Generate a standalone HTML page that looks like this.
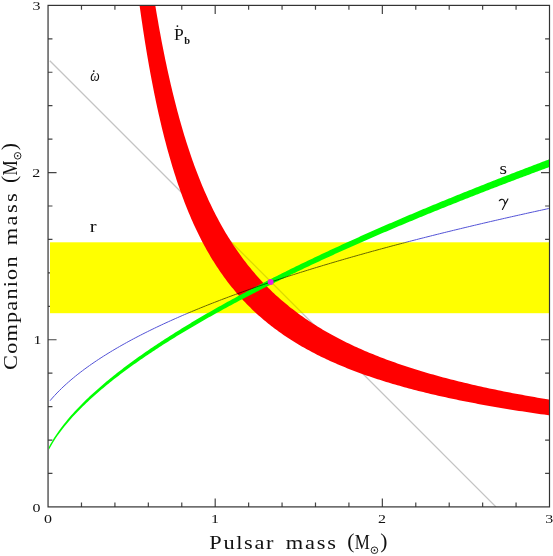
<!DOCTYPE html>
<html><head><meta charset="utf-8">
<style>
html,body{margin:0;padding:0;background:#fff;}
body{width:553px;height:556px;overflow:hidden;}
svg{display:block;will-change:transform;}
.ser{font-family:"Liberation Serif",serif;fill:#111;}
.san{font-family:"Liberation Sans",sans-serif;fill:#111;}
</style></head>
<body>
<svg width="553" height="556" viewBox="0 0 553 556">
<defs><clipPath id="pc"><rect x="48.05" y="5.39" width="501.45" height="501.51"/></clipPath><clipPath id="cy"><rect x="50" y="242.3" width="500" height="70.9"/></clipPath><clipPath id="cn"><rect x="40" y="0" width="520" height="242.3"/><rect x="40" y="313.2" width="520" height="250"/></clipPath></defs>
<rect x="0" y="0" width="553" height="556" fill="#fff"/>
<path d="M81.48,506.9 v-4.4 M81.48,5.39 v4.4 M48.05,473.47 h4.4 M549.5,473.47 h-4.4 M114.91,506.9 v-4.4 M114.91,5.39 v4.4 M48.05,440.03 h4.4 M549.5,440.03 h-4.4 M148.34,506.9 v-4.4 M148.34,5.39 v4.4 M48.05,406.6 h4.4 M549.5,406.6 h-4.4 M181.77,506.9 v-4.4 M181.77,5.39 v4.4 M48.05,373.16 h4.4 M549.5,373.16 h-4.4 M215.2,506.9 v-8.5 M215.2,5.39 v8.5 M48.05,339.73 h8.5 M549.5,339.73 h-8.5 M248.63,506.9 v-4.4 M248.63,5.39 v4.4 M48.05,306.3 h4.4 M549.5,306.3 h-4.4 M282.06,506.9 v-4.4 M282.06,5.39 v4.4 M48.05,272.86 h4.4 M549.5,272.86 h-4.4 M315.49,506.9 v-4.4 M315.49,5.39 v4.4 M48.05,239.43 h4.4 M549.5,239.43 h-4.4 M348.92,506.9 v-4.4 M348.92,5.39 v4.4 M48.05,205.99 h4.4 M549.5,205.99 h-4.4 M382.35,506.9 v-8.5 M382.35,5.39 v8.5 M48.05,172.56 h8.5 M549.5,172.56 h-8.5 M415.78,506.9 v-4.4 M415.78,5.39 v4.4 M48.05,139.13 h4.4 M549.5,139.13 h-4.4 M449.21,506.9 v-4.4 M449.21,5.39 v4.4 M48.05,105.69 h4.4 M549.5,105.69 h-4.4 M482.64,506.9 v-4.4 M482.64,5.39 v4.4 M48.05,72.26 h4.4 M549.5,72.26 h-4.4 M516.07,506.9 v-4.4 M516.07,5.39 v4.4 M48.05,38.82 h4.4 M549.5,38.82 h-4.4" stroke="#444" stroke-width="1.2" fill="none"/>
<g clip-path="url(#pc)">
<rect x="50" y="242.3" width="500" height="70.9" fill="#ffff00"/>
<line x1="49.8" y1="60.7" x2="496" y2="506.9" stroke="#c4c4c4" stroke-width="1.3" clip-path="url(#cn)"/>
<line x1="49.8" y1="60.7" x2="496" y2="506.9" stroke="#dcdcdc" stroke-width="1.3" clip-path="url(#cy)" style="mix-blend-mode:multiply"/>
<path d="M98.19,-654.5 L98.52,-643.62 L98.85,-632.86 L99.18,-622.2 L99.51,-611.64 L99.85,-601.19 L100.19,-590.85 L100.53,-580.6 L100.87,-570.46 L101.21,-560.42 L101.56,-550.48 L101.91,-540.63 L102.26,-530.89 L102.61,-521.24 L102.97,-511.68 L103.32,-502.22 L103.68,-492.86 L104.05,-483.59 L104.41,-474.41 L104.78,-465.32 L105.15,-456.32 L105.52,-447.41 L105.89,-438.59 L106.27,-429.85 L106.65,-421.21 L107.03,-412.65 L107.42,-404.17 L107.8,-395.78 L108.19,-387.47 L108.58,-379.25 L108.98,-371.11 L109.37,-363.04 L109.77,-355.06 L110.18,-347.16 L110.58,-339.34 L110.99,-331.59 L111.4,-323.93 L111.81,-316.34 L112.22,-308.82 L112.64,-301.38 L113.06,-294.01 L113.49,-286.72 L113.91,-279.5 L114.34,-272.36 L114.77,-265.28 L115.21,-258.28 L115.65,-251.34 L116.09,-244.48 L116.53,-237.68 L116.98,-230.95 L117.42,-224.29 L117.88,-217.7 L118.33,-211.17 L118.79,-204.71 L119.25,-198.31 L119.71,-191.98 L120.18,-185.71 L120.65,-179.5 L121.12,-173.35 L121.6,-167.27 L122.08,-161.25 L122.56,-155.29 L123.04,-149.39 L123.53,-143.55 L124.02,-137.76 L124.52,-132.04 L125.02,-126.37 L125.52,-120.76 L126.02,-115.21 L126.53,-109.71 L127.04,-104.27 L127.56,-98.88 L128.07,-93.55 L128.6,-88.27 L129.12,-83.04 L129.65,-77.87 L130.18,-72.75 L130.71,-67.68 L131.25,-62.66 L131.8,-57.7 L132.34,-52.78 L132.89,-47.91 L133.44,-43.09 L134,-38.32 L134.56,-33.6 L135.12,-28.93 L135.69,-24.3 L136.26,-19.72 L136.83,-15.19 L137.41,-10.7 L137.99,-6.26 L138.58,-1.87 L139.17,2.49 L139.76,6.79 L140.36,11.06 L140.96,15.28 L141.57,19.46 L142.18,23.59 L142.79,27.69 L143.41,31.74 L144.03,35.75 L144.65,39.72 L145.28,43.66 L145.91,47.55 L146.55,51.4 L147.19,55.21 L147.84,58.98 L148.49,62.72 L149.14,66.42 L149.8,70.08 L150.46,73.7 L151.13,77.29 L151.8,80.84 L152.48,84.35 L153.16,87.83 L153.84,91.27 L154.53,94.68 L155.23,98.06 L155.92,101.4 L156.63,104.7 L157.33,107.98 L158.05,111.22 L158.76,114.42 L159.48,117.6 L160.21,120.74 L160.94,123.85 L161.67,126.93 L162.41,129.98 L163.16,132.99 L163.91,135.98 L164.66,138.94 L165.42,141.86 L166.19,144.76 L166.96,147.63 L167.73,150.47 L168.51,153.28 L169.3,156.06 L170.09,158.82 L170.88,161.54 L171.68,164.24 L172.49,166.92 L173.3,169.56 L174.11,172.18 L174.93,174.77 L175.76,177.34 L176.59,179.88 L177.43,182.4 L178.27,184.89 L179.12,187.35 L179.97,189.79 L180.83,192.21 L181.7,194.6 L182.57,196.97 L183.44,199.32 L184.32,201.64 L185.21,203.94 L186.11,206.21 L187,208.46 L187.91,210.7 L188.82,212.9 L189.74,215.09 L190.66,217.26 L191.59,219.4 L192.52,221.52 L193.46,223.63 L194.41,225.71 L195.37,227.77 L196.32,229.81 L197.29,231.83 L198.26,233.83 L199.24,235.81 L200.23,237.78 L201.22,239.72 L202.21,241.64 L203.22,243.55 L204.23,245.43 L205.25,247.3 L206.27,249.15 L207.3,250.99 L208.34,252.8 L209.38,254.6 L210.43,256.38 L211.49,258.14 L212.55,259.89 L213.63,261.62 L214.7,263.33 L215.79,265.02 L216.88,266.7 L217.98,268.37 L219.09,270.02 L220.2,271.65 L221.32,273.27 L222.45,274.87 L223.59,276.46 L224.73,278.03 L225.88,279.58 L227.04,281.13 L228.21,282.65 L229.38,284.17 L230.56,285.67 L231.75,287.15 L232.95,288.62 L234.15,290.08 L235.36,291.53 L236.58,292.96 L237.81,294.38 L239.05,295.78 L240.29,297.17 L241.54,298.55 L242.8,299.92 L244.07,301.27 L245.35,302.61 L246.63,303.94 L247.93,305.26 L249.23,306.56 L250.54,307.86 L251.86,309.14 L253.18,310.41 L254.52,311.67 L255.86,312.92 L257.22,314.15 L258.58,315.38 L259.95,316.59 L261.33,317.8 L262.72,318.99 L264.12,320.17 L265.53,321.35 L266.94,322.51 L268.37,323.66 L269.8,324.8 L271.25,325.93 L272.7,327.05 L274.16,328.17 L275.64,329.27 L277.12,330.36 L278.61,331.44 L280.11,332.52 L281.62,333.58 L283.15,334.64 L284.68,335.69 L286.22,336.72 L287.77,337.75 L289.33,338.77 L290.9,339.79 L292.48,340.79 L294.08,341.78 L295.68,342.77 L297.29,343.75 L298.91,344.72 L300.55,345.68 L302.19,346.64 L303.85,347.58 L305.51,348.52 L307.19,349.45 L308.88,350.37 L310.58,351.29 L312.29,352.2 L314.01,353.1 L315.74,353.99 L317.48,354.88 L319.24,355.76 L321,356.63 L322.78,357.5 L324.57,358.35 L326.37,359.2 L328.19,360.05 L330.01,360.89 L331.85,361.72 L333.69,362.54 L335.55,363.36 L337.43,364.17 L339.31,364.98 L341.21,365.78 L343.12,366.57 L345.04,367.36 L346.97,368.14 L348.92,368.91 L350.88,369.68 L352.85,370.45 L354.84,371.2 L356.84,371.96 L358.85,372.7 L360.87,373.44 L362.91,374.18 L364.96,374.91 L367.02,375.63 L369.1,376.35 L371.19,377.06 L373.3,377.77 L375.42,378.47 L377.55,379.17 L379.69,379.86 L381.85,380.55 L384.03,381.23 L386.22,381.91 L388.42,382.58 L390.64,383.25 L392.87,383.91 L395.11,384.57 L397.37,385.22 L399.65,385.87 L401.94,386.51 L404.24,387.15 L406.56,387.79 L408.9,388.42 L411.25,389.04 L413.61,389.66 L415.99,390.28 L418.39,390.89 L420.8,391.5 L423.23,392.1 L425.67,392.7 L428.13,393.3 L430.61,393.89 L433.1,394.48 L435.61,395.06 L438.13,395.64 L440.67,396.22 L443.23,396.79 L445.8,397.36 L448.39,397.92 L451,398.48 L453.63,399.04 L456.27,399.59 L458.93,400.14 L461.6,400.69 L464.3,401.23 L467.01,401.77 L469.74,402.3 L472.48,402.83 L475.25,403.36 L478.03,403.88 L480.83,404.41 L483.65,404.92 L486.49,405.44 L489.34,405.95 L492.22,406.46 L495.11,406.96 L498.02,407.46 L500.95,407.96 L503.9,408.45 L506.87,408.94 L509.86,409.43 L512.87,409.92 L515.89,410.4 L518.94,410.88 L522.01,411.36 L525.09,411.83 L528.2,412.3 L531.33,412.77 L534.48,413.23 L537.64,413.69 L540.83,414.15 L544.04,414.61 L547.27,415.06 L550.52,415.51 L553.8,415.96 L557.09,416.4 L560.41,416.85 L563.74,417.29 L567.1,417.72 L570.48,418.16 L573.88,418.59 L577.31,419.02 L580.76,419.44 L584.23,419.87 L587.72,420.29 L591.23,420.71 L594.77,421.12 L598.33,421.54 L601.91,421.95 L605.52,422.36 L609.15,422.77 L612.81,423.17 L616.49,423.57 L620.19,423.97 L623.91,424.37 L627.67,424.76 L631.44,425.16 L635.24,425.55 L639.06,425.94 L642.91,426.32 L646.79,426.7 L650.69,427.09 L654.61,427.47 L658.56,427.84 L662.54,428.22 L666.54,428.59 L670.57,428.96 L674.62,429.33 L678.7,429.7 L682.81,430.06 L686.95,430.42 L691.11,430.78 L695.3,431.14 L699.51,431.5 L703.75,431.85 L708.03,432.21 L712.32,432.56 L716.65,432.91 L716.65,420.48 L712.32,420.06 L708.03,419.65 L703.75,419.23 L699.51,418.81 L695.3,418.39 L691.11,417.97 L686.95,417.54 L682.81,417.11 L678.7,416.68 L674.62,416.24 L670.57,415.81 L666.54,415.37 L662.54,414.93 L658.56,414.48 L654.61,414.03 L650.69,413.58 L646.79,413.13 L642.91,412.68 L639.06,412.22 L635.24,411.76 L631.44,411.29 L627.67,410.83 L623.91,410.36 L620.19,409.89 L616.49,409.41 L612.81,408.94 L609.15,408.46 L605.52,407.97 L601.91,407.49 L598.33,407 L594.77,406.5 L591.23,406.01 L587.72,405.51 L584.23,405.01 L580.76,404.51 L577.31,404 L573.88,403.49 L570.48,402.97 L567.1,402.46 L563.74,401.94 L560.41,401.41 L557.09,400.88 L553.8,400.35 L550.52,399.82 L547.27,399.28 L544.04,398.74 L540.83,398.2 L537.64,397.65 L534.48,397.1 L531.33,396.54 L528.2,395.99 L525.09,395.42 L522.01,394.86 L518.94,394.29 L515.89,393.72 L512.87,393.14 L509.86,392.56 L506.87,391.98 L503.9,391.39 L500.95,390.79 L498.02,390.2 L495.11,389.6 L492.22,388.99 L489.34,388.39 L486.49,387.77 L483.65,387.16 L480.83,386.54 L478.03,385.91 L475.25,385.28 L472.48,384.65 L469.74,384.01 L467.01,383.37 L464.3,382.72 L461.6,382.07 L458.93,381.42 L456.27,380.76 L453.63,380.09 L451,379.42 L448.39,378.75 L445.8,378.07 L443.23,377.38 L440.67,376.7 L438.13,376 L435.61,375.3 L433.1,374.6 L430.61,373.89 L428.13,373.18 L425.67,372.46 L423.23,371.74 L420.8,371.01 L418.39,370.27 L415.99,369.53 L413.61,368.79 L411.25,368.04 L408.9,367.28 L406.56,366.52 L404.24,365.75 L401.94,364.98 L399.65,364.2 L397.37,363.41 L395.11,362.62 L392.87,361.82 L390.64,361.02 L388.42,360.21 L386.22,359.4 L384.03,358.58 L381.85,357.75 L379.69,356.92 L377.55,356.08 L375.42,355.23 L373.3,354.37 L371.19,353.51 L369.1,352.65 L367.02,351.77 L364.96,350.89 L362.91,350.01 L360.87,349.11 L358.85,348.21 L356.84,347.3 L354.84,346.39 L352.85,345.47 L350.88,344.54 L348.92,343.6 L346.97,342.65 L345.04,341.7 L343.12,340.74 L341.21,339.77 L339.31,338.79 L337.43,337.81 L335.55,336.82 L333.69,335.82 L331.85,334.81 L330.01,333.79 L328.19,332.77 L326.37,331.73 L324.57,330.69 L322.78,329.64 L321,328.58 L319.24,327.51 L317.48,326.43 L315.74,325.34 L314.01,324.25 L312.29,323.14 L310.58,322.03 L308.88,320.9 L307.19,319.77 L305.51,318.63 L303.85,317.47 L302.19,316.31 L300.55,315.14 L298.91,313.95 L297.29,312.76 L295.68,311.55 L294.08,310.34 L292.48,309.11 L290.9,307.88 L289.33,306.63 L287.77,305.37 L286.22,304.1 L284.68,302.82 L283.15,301.53 L281.62,300.23 L280.11,298.91 L278.61,297.58 L277.12,296.24 L275.64,294.89 L274.16,293.53 L272.7,292.16 L271.25,290.77 L269.8,289.37 L268.37,287.95 L266.94,286.53 L265.53,285.09 L264.12,283.64 L262.72,282.17 L261.33,280.69 L259.95,279.2 L258.58,277.69 L257.22,276.17 L255.86,274.64 L254.52,273.09 L253.18,271.53 L251.86,269.95 L250.54,268.36 L249.23,266.75 L247.93,265.13 L246.63,263.49 L245.35,261.83 L244.07,260.16 L242.8,258.48 L241.54,256.78 L240.29,255.06 L239.05,253.33 L237.81,251.58 L236.58,249.81 L235.36,248.03 L234.15,246.23 L232.95,244.41 L231.75,242.58 L230.56,240.72 L229.38,238.85 L228.21,236.96 L227.04,235.06 L225.88,233.13 L224.73,231.19 L223.59,229.22 L222.45,227.24 L221.32,225.24 L220.2,223.22 L219.09,221.18 L217.98,219.12 L216.88,217.03 L215.79,214.93 L214.7,212.81 L213.63,210.67 L212.55,208.5 L211.49,206.32 L210.43,204.11 L209.38,201.88 L208.34,199.63 L207.3,197.36 L206.27,195.06 L205.25,192.74 L204.23,190.4 L203.22,188.03 L202.21,185.64 L201.22,183.23 L200.23,180.79 L199.24,178.33 L198.26,175.85 L197.29,173.34 L196.32,170.8 L195.37,168.24 L194.41,165.65 L193.46,163.04 L192.52,160.4 L191.59,157.73 L190.66,155.04 L189.74,152.32 L188.82,149.57 L187.91,146.8 L187,143.99 L186.11,141.16 L185.21,138.3 L184.32,135.41 L183.44,132.49 L182.57,129.54 L181.7,126.56 L180.83,123.56 L179.97,120.52 L179.12,117.45 L178.27,114.35 L177.43,111.21 L176.59,108.05 L175.76,104.85 L174.93,101.62 L174.11,98.36 L173.3,95.06 L172.49,91.73 L171.68,88.37 L170.88,84.97 L170.09,81.54 L169.3,78.07 L168.51,74.57 L167.73,71.03 L166.96,67.46 L166.19,63.85 L165.42,60.2 L164.66,56.51 L163.91,52.79 L163.16,49.03 L162.41,45.23 L161.67,41.39 L160.94,37.51 L160.21,33.6 L159.48,29.64 L158.76,25.64 L158.05,21.6 L157.33,17.52 L156.63,13.4 L155.92,9.24 L155.23,5.03 L154.53,0.78 L153.84,-3.51 L153.16,-7.85 L152.48,-12.23 L151.8,-16.66 L151.13,-21.13 L150.46,-25.65 L149.8,-30.21 L149.14,-34.83 L148.49,-39.48 L147.84,-44.19 L147.19,-48.94 L146.55,-53.74 L145.91,-58.6 L145.28,-63.5 L144.65,-68.45 L144.03,-73.45 L143.41,-78.5 L142.79,-83.61 L142.18,-88.76 L141.57,-93.97 L140.96,-99.24 L140.36,-104.55 L139.76,-109.92 L139.17,-115.35 L138.58,-120.83 L137.99,-126.37 L137.41,-131.96 L136.83,-137.61 L136.26,-143.32 L135.69,-149.08 L135.12,-154.91 L134.56,-160.79 L134,-166.74 L133.44,-172.74 L132.89,-178.81 L132.34,-184.94 L131.8,-191.12 L131.25,-197.38 L130.71,-203.69 L130.18,-210.07 L129.65,-216.52 L129.12,-223.03 L128.6,-229.61 L128.07,-236.25 L127.56,-242.96 L127.04,-249.74 L126.53,-256.59 L126.02,-263.51 L125.52,-270.5 L125.02,-277.56 L124.52,-284.69 L124.02,-291.89 L123.53,-299.16 L123.04,-306.51 L122.56,-313.94 L122.08,-321.44 L121.6,-329.01 L121.12,-336.66 L120.65,-344.39 L120.18,-352.2 L119.71,-360.08 L119.25,-368.05 L118.79,-376.09 L118.33,-384.22 L117.88,-392.43 L117.42,-400.72 L116.98,-409.09 L116.53,-417.55 L116.09,-426.1 L115.65,-434.73 L115.21,-443.45 L114.77,-452.25 L114.34,-461.15 L113.91,-470.13 L113.49,-479.2 L113.06,-488.37 L112.64,-497.63 L112.22,-506.98 L111.81,-516.42 L111.4,-525.96 L110.99,-535.6 L110.58,-545.33 L110.18,-555.16 L109.77,-565.09 L109.37,-575.11 L108.98,-585.24 L108.58,-595.47 L108.19,-605.8 L107.8,-616.24 L107.42,-626.78 L107.03,-637.43 L106.65,-648.18 L106.27,-659.04 L105.89,-670.01 L105.52,-681.09 L105.15,-692.27 L104.78,-703.58 L104.41,-714.99 L104.05,-726.52 L103.68,-738.16 L103.32,-749.92 L102.97,-761.8 L102.61,-773.79 L102.26,-785.91 L101.91,-798.14 L101.56,-810.5 L101.21,-822.98 L100.87,-835.59 L100.53,-848.32 L100.19,-861.18 L99.85,-874.16 L99.51,-887.28 L99.18,-900.52 L98.85,-913.9 L98.52,-927.41 L98.19,-941.06 Z" fill="#ff0000"/>
<path d="M48.89,449.79 L50.59,446.66 L52.29,443.73 L53.99,440.98 L55.69,438.36 L57.4,435.87 L59.1,433.48 L60.8,431.17 L62.5,428.95 L64.21,426.8 L65.91,424.7 L67.61,422.67 L69.31,420.69 L71.01,418.76 L72.72,416.87 L74.42,415.02 L76.12,413.21 L77.82,411.43 L79.53,409.69 L81.23,407.98 L82.93,406.29 L84.63,404.64 L86.34,403.01 L88.04,401.4 L89.74,399.82 L91.44,398.26 L93.14,396.72 L94.85,395.21 L96.55,393.71 L98.25,392.23 L99.95,390.76 L101.66,389.32 L103.36,387.89 L105.06,386.47 L106.76,385.07 L108.46,383.69 L110.17,382.32 L111.87,380.96 L113.57,379.61 L115.27,378.28 L116.98,376.96 L118.68,375.65 L120.38,374.36 L122.08,373.07 L123.78,371.8 L125.49,370.53 L127.19,369.28 L128.89,368.03 L130.59,366.8 L132.3,365.57 L134,364.36 L135.7,363.15 L137.4,361.95 L139.1,360.76 L140.81,359.58 L142.51,358.4 L144.21,357.24 L145.91,356.08 L147.62,354.93 L149.32,353.78 L151.02,352.64 L152.72,351.51 L154.43,350.39 L156.13,349.27 L157.83,348.16 L159.53,347.06 L161.23,345.96 L162.94,344.87 L164.64,343.78 L166.34,342.7 L168.04,341.63 L169.75,340.56 L171.45,339.5 L173.15,338.44 L174.85,337.39 L176.55,336.34 L178.26,335.3 L179.96,334.26 L181.66,333.23 L183.36,332.2 L185.07,331.18 L186.77,330.16 L188.47,329.15 L190.17,328.14 L191.87,327.14 L193.58,326.14 L195.28,325.15 L196.98,324.16 L198.68,323.17 L200.39,322.19 L202.09,321.21 L203.79,320.24 L205.49,319.27 L207.19,318.3 L208.9,317.34 L210.6,316.38 L212.3,315.42 L214,314.47 L215.71,313.53 L217.41,312.58 L219.11,311.64 L220.81,310.71 L222.51,309.77 L224.22,308.84 L225.92,307.92 L227.62,306.99 L229.32,306.07 L231.03,305.16 L232.73,304.24 L234.43,303.33 L236.13,302.43 L237.84,301.52 L239.54,300.62 L241.24,299.72 L242.94,298.83 L244.64,297.94 L246.35,297.05 L248.05,296.16 L249.75,295.28 L251.45,294.4 L253.16,293.52 L254.86,292.64 L256.56,291.77 L258.26,290.9 L259.96,290.03 L261.67,289.17 L263.37,288.31 L265.07,287.45 L266.77,286.59 L268.48,285.74 L270.18,284.88 L271.88,284.03 L273.58,283.19 L275.28,282.34 L276.99,281.5 L278.69,280.66 L280.39,279.82 L282.09,278.99 L283.8,278.15 L285.5,277.32 L287.2,276.49 L288.9,275.67 L290.6,274.84 L292.31,274.02 L294.01,273.2 L295.71,272.38 L297.41,271.57 L299.12,270.75 L300.82,269.94 L302.52,269.13 L304.22,268.32 L305.92,267.52 L307.63,266.71 L309.33,265.91 L311.03,265.11 L312.73,264.32 L314.44,263.52 L316.14,262.73 L317.84,261.93 L319.54,261.14 L321.25,260.36 L322.95,259.57 L324.65,258.79 L326.35,258 L328.05,257.22 L329.76,256.44 L331.46,255.66 L333.16,254.89 L334.86,254.12 L336.57,253.34 L338.27,252.57 L339.97,251.8 L341.67,251.04 L343.37,250.27 L345.08,249.51 L346.78,248.74 L348.48,247.98 L350.18,247.23 L351.89,246.47 L353.59,245.71 L355.29,244.96 L356.99,244.21 L358.69,243.45 L360.4,242.7 L362.1,241.96 L363.8,241.21 L365.5,240.46 L367.21,239.72 L368.91,238.98 L370.61,238.24 L372.31,237.5 L374.01,236.76 L375.72,236.03 L377.42,235.29 L379.12,234.56 L380.82,233.83 L382.53,233.1 L384.23,232.37 L385.93,231.64 L387.63,230.91 L389.34,230.19 L391.04,229.46 L392.74,228.74 L394.44,228.02 L396.14,227.3 L397.85,226.58 L399.55,225.86 L401.25,225.15 L402.95,224.43 L404.66,223.72 L406.36,223.01 L408.06,222.3 L409.76,221.59 L411.46,220.88 L413.17,220.17 L414.87,219.47 L416.57,218.76 L418.27,218.06 L419.98,217.36 L421.68,216.66 L423.38,215.96 L425.08,215.26 L426.78,214.56 L428.49,213.87 L430.19,213.17 L431.89,212.48 L433.59,211.78 L435.3,211.09 L437,210.4 L438.7,209.71 L440.4,209.03 L442.1,208.34 L443.81,207.65 L445.51,206.97 L447.21,206.28 L448.91,205.6 L450.62,204.92 L452.32,204.24 L454.02,203.56 L455.72,202.88 L457.42,202.2 L459.13,201.53 L460.83,200.85 L462.53,200.18 L464.23,199.51 L465.94,198.83 L467.64,198.16 L469.34,197.49 L471.04,196.82 L472.75,196.16 L474.45,195.49 L476.15,194.82 L477.85,194.16 L479.55,193.49 L481.26,192.83 L482.96,192.17 L484.66,191.51 L486.36,190.85 L488.07,190.19 L489.77,189.53 L491.47,188.87 L493.17,188.21 L494.87,187.56 L496.58,186.9 L498.28,186.25 L499.98,185.6 L501.68,184.95 L503.39,184.3 L505.09,183.65 L506.79,183 L508.49,182.35 L510.19,181.7 L511.9,181.05 L513.6,180.41 L515.3,179.76 L517,179.12 L518.71,178.48 L520.41,177.84 L522.11,177.19 L523.81,176.55 L525.51,175.92 L527.22,175.28 L528.92,174.64 L530.62,174 L532.32,173.37 L534.03,172.73 L535.73,172.1 L537.43,171.46 L539.13,170.83 L540.84,170.2 L542.54,169.57 L544.24,168.94 L545.94,168.31 L547.64,167.68 L549.35,167.05 L551.05,166.42 L552.75,165.8 L554.45,165.17 L556.16,164.55 L557.86,163.92 L557.86,156.12 L556.16,156.76 L554.45,157.39 L552.75,158.03 L551.05,158.67 L549.35,159.31 L547.64,159.95 L545.94,160.59 L544.24,161.23 L542.54,161.87 L540.84,162.51 L539.13,163.16 L537.43,163.8 L535.73,164.45 L534.03,165.09 L532.32,165.74 L530.62,166.39 L528.92,167.04 L527.22,167.69 L525.51,168.34 L523.81,168.99 L522.11,169.64 L520.41,170.29 L518.71,170.95 L517,171.6 L515.3,172.26 L513.6,172.91 L511.9,173.57 L510.19,174.23 L508.49,174.89 L506.79,175.55 L505.09,176.21 L503.39,176.87 L501.68,177.54 L499.98,178.2 L498.28,178.86 L496.58,179.53 L494.87,180.2 L493.17,180.86 L491.47,181.53 L489.77,182.2 L488.07,182.87 L486.36,183.54 L484.66,184.22 L482.96,184.89 L481.26,185.56 L479.55,186.24 L477.85,186.92 L476.15,187.59 L474.45,188.27 L472.75,188.95 L471.04,189.63 L469.34,190.31 L467.64,191 L465.94,191.68 L464.23,192.36 L462.53,193.05 L460.83,193.74 L459.13,194.42 L457.42,195.11 L455.72,195.8 L454.02,196.49 L452.32,197.19 L450.62,197.88 L448.91,198.57 L447.21,199.27 L445.51,199.96 L443.81,200.66 L442.1,201.36 L440.4,202.06 L438.7,202.76 L437,203.46 L435.3,204.17 L433.59,204.87 L431.89,205.58 L430.19,206.28 L428.49,206.99 L426.78,207.7 L425.08,208.41 L423.38,209.12 L421.68,209.83 L419.98,210.55 L418.27,211.26 L416.57,211.98 L414.87,212.7 L413.17,213.42 L411.46,214.14 L409.76,214.86 L408.06,215.58 L406.36,216.3 L404.66,217.03 L402.95,217.76 L401.25,218.48 L399.55,219.21 L397.85,219.94 L396.14,220.68 L394.44,221.41 L392.74,222.14 L391.04,222.88 L389.34,223.62 L387.63,224.35 L385.93,225.09 L384.23,225.84 L382.53,226.58 L380.82,227.32 L379.12,228.07 L377.42,228.81 L375.72,229.56 L374.01,230.31 L372.31,231.06 L370.61,231.82 L368.91,232.57 L367.21,233.33 L365.5,234.08 L363.8,234.84 L362.1,235.6 L360.4,236.37 L358.69,237.13 L356.99,237.89 L355.29,238.66 L353.59,239.43 L351.89,240.2 L350.18,240.97 L348.48,241.74 L346.78,242.52 L345.08,243.3 L343.37,244.07 L341.67,244.85 L339.97,245.63 L338.27,246.42 L336.57,247.2 L334.86,247.99 L333.16,248.78 L331.46,249.57 L329.76,250.36 L328.05,251.15 L326.35,251.95 L324.65,252.75 L322.95,253.55 L321.25,254.35 L319.54,255.15 L317.84,255.95 L316.14,256.76 L314.44,257.57 L312.73,258.38 L311.03,259.19 L309.33,260.01 L307.63,260.82 L305.92,261.64 L304.22,262.46 L302.52,263.29 L300.82,264.11 L299.12,264.94 L297.41,265.77 L295.71,266.6 L294.01,267.43 L292.31,268.27 L290.6,269.1 L288.9,269.94 L287.2,270.78 L285.5,271.63 L283.8,272.47 L282.09,273.32 L280.39,274.17 L278.69,275.03 L276.99,275.88 L275.28,276.74 L273.58,277.6 L271.88,278.47 L270.18,279.33 L268.48,280.2 L266.77,281.07 L265.07,281.94 L263.37,282.82 L261.67,283.7 L259.96,284.58 L258.26,285.46 L256.56,286.35 L254.86,287.24 L253.16,288.13 L251.45,289.02 L249.75,289.92 L248.05,290.82 L246.35,291.72 L244.64,292.63 L242.94,293.54 L241.24,294.45 L239.54,295.36 L237.84,296.28 L236.13,297.2 L234.43,298.13 L232.73,299.05 L231.03,299.98 L229.32,300.92 L227.62,301.85 L225.92,302.79 L224.22,303.74 L222.51,304.68 L220.81,305.63 L219.11,306.59 L217.41,307.55 L215.71,308.51 L214,309.47 L212.3,310.44 L210.6,311.41 L208.9,312.39 L207.19,313.37 L205.49,314.35 L203.79,315.34 L202.09,316.33 L200.39,317.33 L198.68,318.33 L196.98,319.33 L195.28,320.34 L193.58,321.36 L191.87,322.37 L190.17,323.4 L188.47,324.42 L186.77,325.45 L185.07,326.49 L183.36,327.53 L181.66,328.58 L179.96,329.63 L178.26,330.68 L176.55,331.75 L174.85,332.81 L173.15,333.88 L171.45,334.96 L169.75,336.04 L168.04,337.13 L166.34,338.22 L164.64,339.32 L162.94,340.43 L161.23,341.54 L159.53,342.66 L157.83,343.79 L156.13,344.92 L154.43,346.05 L152.72,347.2 L151.02,348.35 L149.32,349.51 L147.62,350.67 L145.91,351.85 L144.21,353.03 L142.51,354.21 L140.81,355.41 L139.1,356.62 L137.4,357.83 L135.7,359.05 L134,360.28 L132.3,361.52 L130.59,362.76 L128.89,364.02 L127.19,365.29 L125.49,366.57 L123.78,367.85 L122.08,369.15 L120.38,370.46 L118.68,371.78 L116.98,373.11 L115.27,374.46 L113.57,375.81 L111.87,377.18 L110.17,378.56 L108.46,379.96 L106.76,381.37 L105.06,382.79 L103.36,384.23 L101.66,385.69 L99.95,387.16 L98.25,388.65 L96.55,390.15 L94.85,391.68 L93.14,393.22 L91.44,394.79 L89.74,396.37 L88.04,397.98 L86.34,399.61 L84.63,401.27 L82.93,402.95 L81.23,404.67 L79.53,406.41 L77.82,408.18 L76.12,409.98 L74.42,411.82 L72.72,413.7 L71.01,415.62 L69.31,417.58 L67.61,419.59 L65.91,421.65 L64.21,423.77 L62.5,425.96 L60.8,428.21 L59.1,430.54 L57.4,432.96 L55.69,435.48 L53.99,438.12 L52.29,440.9 L50.59,443.84 L48.89,446.99 Z" fill="#00ff00"/>
<path d="M50.06,400.71 L52.37,398.01 L54.69,395.44 L57.01,392.98 L59.33,390.62 L61.65,388.34 L63.97,386.14 L66.29,384.01 L68.61,381.95 L70.92,379.94 L73.24,377.99 L75.56,376.09 L77.88,374.24 L80.2,372.44 L82.52,370.67 L84.84,368.94 L87.16,367.25 L89.47,365.59 L91.79,363.97 L94.11,362.38 L96.43,360.81 L98.75,359.27 L101.07,357.76 L103.39,356.28 L105.71,354.82 L108.02,353.38 L110.34,351.96 L112.66,350.56 L114.98,349.19 L117.3,347.83 L119.62,346.49 L121.94,345.17 L124.26,343.87 L126.57,342.59 L128.89,341.32 L131.21,340.06 L133.53,338.82 L135.85,337.6 L138.17,336.39 L140.49,335.19 L142.8,334.01 L145.12,332.84 L147.44,331.68 L149.76,330.53 L152.08,329.4 L154.4,328.27 L156.72,327.16 L159.04,326.06 L161.35,324.97 L163.67,323.89 L165.99,322.82 L168.31,321.76 L170.63,320.71 L172.95,319.67 L175.27,318.64 L177.59,317.61 L179.9,316.6 L182.22,315.59 L184.54,314.59 L186.86,313.6 L189.18,312.62 L191.5,311.65 L193.82,310.68 L196.14,309.72 L198.45,308.77 L200.77,307.82 L203.09,306.89 L205.41,305.95 L207.73,305.03 L210.05,304.11 L212.37,303.2 L214.69,302.3 L217,301.4 L219.32,300.5 L221.64,299.62 L223.96,298.74 L226.28,297.86 L228.6,296.99 L230.92,296.13 L233.24,295.27 L235.55,294.42 L237.87,293.57 L240.19,292.73 L242.51,291.89 L244.83,291.06 L247.15,290.23 L249.47,289.41 L251.79,288.59 L254.1,287.78 L256.42,286.97 L258.74,286.17 L261.06,285.37 L263.38,284.57 L265.7,283.78 L268.02,283 L270.34,282.22 L272.65,281.44 L274.97,280.66 L277.29,279.9 L279.61,279.13 L281.93,278.37 L284.25,277.61 L286.57,276.86 L288.88,276.11 L291.2,275.36 L293.52,274.62 L295.84,273.88 L298.16,273.15 L300.48,272.42 L302.8,271.69 L305.12,270.97 L307.43,270.25 L309.75,269.53 L312.07,268.81 L314.39,268.1 L316.71,267.4 L319.03,266.69 L321.35,265.99 L323.67,265.29 L325.98,264.6 L328.3,263.91 L330.62,263.22 L332.94,262.53 L335.26,261.85 L337.58,261.17 L339.9,260.49 L342.22,259.82 L344.53,259.15 L346.85,258.48 L349.17,257.82 L351.49,257.15 L353.81,256.49 L356.13,255.84 L358.45,255.18 L360.77,254.53 L363.08,253.88 L365.4,253.23 L367.72,252.59 L370.04,251.95 L372.36,251.31 L374.68,250.67 L377,250.04 L379.32,249.41 L381.63,248.78 L383.95,248.15 L386.27,247.52 L388.59,246.9 L390.91,246.28 L393.23,245.66 L395.55,245.05 L397.87,244.44 L400.18,243.83 L402.5,243.22 L404.82,242.61 L407.14,242.01 L409.46,241.4 L411.78,240.8 L414.1,240.2 L416.42,239.61 L418.73,239.01 L421.05,238.42 L423.37,237.83 L425.69,237.25 L428.01,236.66 L430.33,236.08 L432.65,235.49 L434.96,234.91 L437.28,234.34 L439.6,233.76 L441.92,233.18 L444.24,232.61 L446.56,232.04 L448.88,231.47 L451.2,230.91 L453.51,230.34 L455.83,229.78 L458.15,229.22 L460.47,228.66 L462.79,228.1 L465.11,227.54 L467.43,226.99 L469.75,226.44 L472.06,225.88 L474.38,225.33 L476.7,224.79 L479.02,224.24 L481.34,223.7 L483.66,223.15 L485.98,222.61 L488.3,222.07 L490.61,221.53 L492.93,221 L495.25,220.46 L497.57,219.93 L499.89,219.4 L502.21,218.87 L504.53,218.34 L506.85,217.81 L509.16,217.29 L511.48,216.76 L513.8,216.24 L516.12,215.72 L518.44,215.2 L520.76,214.68 L523.08,214.16 L525.4,213.65 L527.71,213.13 L530.03,212.62 L532.35,212.11 L534.67,211.6 L536.99,211.09 L539.31,210.58 L541.63,210.08 L543.95,209.57 L546.26,209.07 L548.58,208.57 L550.9,208.07 L553.22,207.57 L555.54,207.07 L557.86,206.58" fill="none" stroke="#5252d6" stroke-width="1" clip-path="url(#cn)"/>
<path d="M50.06,400.71 L52.37,398.01 L54.69,395.44 L57.01,392.98 L59.33,390.62 L61.65,388.34 L63.97,386.14 L66.29,384.01 L68.61,381.95 L70.92,379.94 L73.24,377.99 L75.56,376.09 L77.88,374.24 L80.2,372.44 L82.52,370.67 L84.84,368.94 L87.16,367.25 L89.47,365.59 L91.79,363.97 L94.11,362.38 L96.43,360.81 L98.75,359.27 L101.07,357.76 L103.39,356.28 L105.71,354.82 L108.02,353.38 L110.34,351.96 L112.66,350.56 L114.98,349.19 L117.3,347.83 L119.62,346.49 L121.94,345.17 L124.26,343.87 L126.57,342.59 L128.89,341.32 L131.21,340.06 L133.53,338.82 L135.85,337.6 L138.17,336.39 L140.49,335.19 L142.8,334.01 L145.12,332.84 L147.44,331.68 L149.76,330.53 L152.08,329.4 L154.4,328.27 L156.72,327.16 L159.04,326.06 L161.35,324.97 L163.67,323.89 L165.99,322.82 L168.31,321.76 L170.63,320.71 L172.95,319.67 L175.27,318.64 L177.59,317.61 L179.9,316.6 L182.22,315.59 L184.54,314.59 L186.86,313.6 L189.18,312.62 L191.5,311.65 L193.82,310.68 L196.14,309.72 L198.45,308.77 L200.77,307.82 L203.09,306.89 L205.41,305.95 L207.73,305.03 L210.05,304.11 L212.37,303.2 L214.69,302.3 L217,301.4 L219.32,300.5 L221.64,299.62 L223.96,298.74 L226.28,297.86 L228.6,296.99 L230.92,296.13 L233.24,295.27 L235.55,294.42 L237.87,293.57 L240.19,292.73 L242.51,291.89 L244.83,291.06 L247.15,290.23 L249.47,289.41 L251.79,288.59 L254.1,287.78 L256.42,286.97 L258.74,286.17 L261.06,285.37 L263.38,284.57 L265.7,283.78 L268.02,283 L270.34,282.22 L272.65,281.44 L274.97,280.66 L277.29,279.9 L279.61,279.13 L281.93,278.37 L284.25,277.61 L286.57,276.86 L288.88,276.11 L291.2,275.36 L293.52,274.62 L295.84,273.88 L298.16,273.15 L300.48,272.42 L302.8,271.69 L305.12,270.97 L307.43,270.25 L309.75,269.53 L312.07,268.81 L314.39,268.1 L316.71,267.4 L319.03,266.69 L321.35,265.99 L323.67,265.29 L325.98,264.6 L328.3,263.91 L330.62,263.22 L332.94,262.53 L335.26,261.85 L337.58,261.17 L339.9,260.49 L342.22,259.82 L344.53,259.15 L346.85,258.48 L349.17,257.82 L351.49,257.15 L353.81,256.49 L356.13,255.84 L358.45,255.18 L360.77,254.53 L363.08,253.88 L365.4,253.23 L367.72,252.59 L370.04,251.95 L372.36,251.31 L374.68,250.67 L377,250.04 L379.32,249.41 L381.63,248.78 L383.95,248.15 L386.27,247.52 L388.59,246.9 L390.91,246.28 L393.23,245.66 L395.55,245.05 L397.87,244.44 L400.18,243.83 L402.5,243.22 L404.82,242.61 L407.14,242.01 L409.46,241.4 L411.78,240.8 L414.1,240.2 L416.42,239.61 L418.73,239.01 L421.05,238.42 L423.37,237.83 L425.69,237.25 L428.01,236.66 L430.33,236.08 L432.65,235.49 L434.96,234.91 L437.28,234.34 L439.6,233.76 L441.92,233.18 L444.24,232.61 L446.56,232.04 L448.88,231.47 L451.2,230.91 L453.51,230.34 L455.83,229.78 L458.15,229.22 L460.47,228.66 L462.79,228.1 L465.11,227.54 L467.43,226.99 L469.75,226.44 L472.06,225.88 L474.38,225.33 L476.7,224.79 L479.02,224.24 L481.34,223.7 L483.66,223.15 L485.98,222.61 L488.3,222.07 L490.61,221.53 L492.93,221 L495.25,220.46 L497.57,219.93 L499.89,219.4 L502.21,218.87 L504.53,218.34 L506.85,217.81 L509.16,217.29 L511.48,216.76 L513.8,216.24 L516.12,215.72 L518.44,215.2 L520.76,214.68 L523.08,214.16 L525.4,213.65 L527.71,213.13 L530.03,212.62 L532.35,212.11 L534.67,211.6 L536.99,211.09 L539.31,210.58 L541.63,210.08 L543.95,209.57 L546.26,209.07 L548.58,208.57 L550.9,208.07 L553.22,207.57 L555.54,207.07 L557.86,206.58" fill="none" stroke="#666" stroke-width="1" clip-path="url(#cy)" style="mix-blend-mode:multiply"/>
<circle cx="270.6" cy="282" r="3" fill="#e81ce8"/>
</g>
<rect x="48.05" y="5.39" width="501.45" height="501.51" fill="none" stroke="#333" stroke-width="1.2"/>
<!-- tick labels -->
<g class="ser" font-size="13.3">
<text x="0" y="0" transform="translate(32.44,10.30) scale(1.2,1)">3</text>
<text x="0" y="0" transform="translate(32.30,177.10) scale(1.2,1)">2</text>
<text x="0" y="0" transform="translate(33.40,344.20) scale(1.2,1)">1</text>
<text x="0" y="0" transform="translate(32.49,511.60) scale(1.2,1)">0</text>
<text x="0" y="0" transform="translate(44.09,523.20) scale(1.2,1)">0</text>
<text x="0" y="0" transform="translate(211.10,523.10) scale(1.2,1)">1</text>
<text x="0" y="0" transform="translate(378.10,522.90) scale(1.2,1)">2</text>
<text x="0" y="0" transform="translate(545.24,523.00) scale(1.2,1)">3</text>
</g>
<!-- x label -->
<g class="ser">
<text x="0" y="0" font-size="19.8" transform="translate(209.36,549) scale(1.13,1)" textLength="56.67" lengthAdjust="spacing">Pulsar</text>
<text x="0" y="0" font-size="19.8" transform="translate(285.83,549) scale(1.13,1)" textLength="44.41" lengthAdjust="spacing">mass</text>
<text x="347.15" y="548.1" font-size="21.6">(</text>
<text x="0" y="0" font-size="20.3" transform="translate(354.7,549.1) scale(0.835,1)">M</text>
<text x="380.3" y="548.1" font-size="21.6">)</text>
</g>
<circle cx="374.45" cy="550.25" r="3.3" fill="none" stroke="#111" stroke-width="0.9"/>
<circle cx="374.45" cy="550.25" r="0.9" fill="#111"/>
<!-- y label -->
<g transform="translate(16.5,369) rotate(-90)">
<g class="ser">
<text x="0" y="0" font-size="19.8" transform="translate(-0.92,0) scale(1.13,1)" textLength="100.49" lengthAdjust="spacing">Companion</text>
<text x="0" y="0" font-size="19.8" transform="translate(123.73,0) scale(1.13,1)" textLength="46.09" lengthAdjust="spacing">mass</text>
<text x="186" y="-0.9" font-size="21.6">(</text>
<text x="0" y="0" font-size="20.3" transform="translate(193.4,0) scale(0.835,1)">M</text>
<text x="218.8" y="-0.9" font-size="21.6">)</text>
</g>
<circle cx="213.2" cy="1.15" r="3.3" fill="none" stroke="#111" stroke-width="0.9"/>
<circle cx="213.2" cy="1.15" r="0.9" fill="#111"/>
</g>
<!-- curve labels -->
<g class="ser" font-size="17.5">
<text x="174" y="39.7">P</text>
<text x="184.2" y="43.6" font-size="10.4" font-weight="bold">b</text>
<text x="0" y="0" font-style="italic" font-size="16" transform="translate(90.3,80.9) scale(0.84,1)">ω</text>
<text x="0" y="0" transform="translate(89.8,232.2) scale(1.17,1)">r</text>
<text x="0" y="0" transform="translate(499.6,173.8) scale(1.1,1)">s</text>
</g>
<circle cx="177.4" cy="26.1" r="0.9" fill="#111"/>
<path d="M499.3,200.7 C500.3,199.2 502.6,198.7 503.8,200.1 C504.7,201.2 505,202.6 505,204.2 M507.9,198.9 L502.4,209.4" fill="none" stroke="#111" stroke-width="1.15" stroke-linecap="round"/>
<circle cx="93.8" cy="71.1" r="0.9" fill="#111"/>
</svg>
</body></html>
